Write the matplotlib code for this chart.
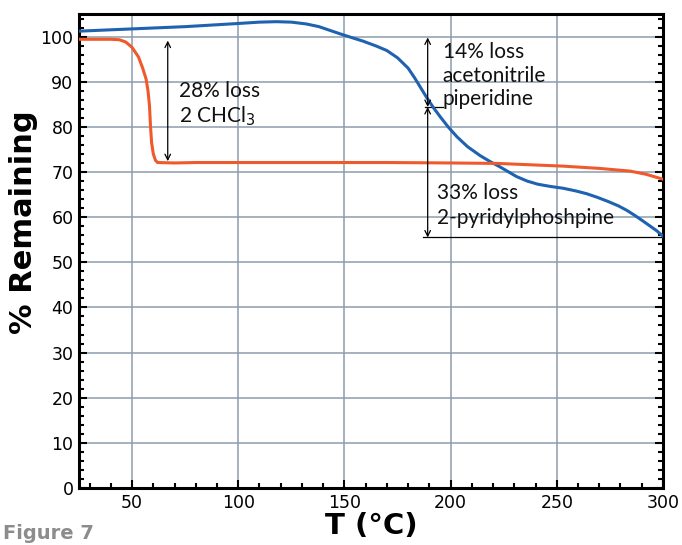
import numpy as np
import matplotlib.pyplot as plt
from matplotlib.ticker import MultipleLocator

# data
# orange trace (loss of CHCl3)
t_orange = [25, 40, 44, 47, 50, 53, 55, 56.6, 57.5, 58.2, 58.7, 59.2, 60, 61, 62,
            70, 80, 100, 143, 170, 200, 222, 253, 270, 284.5, 292, 300]
w_orange = [99.4, 99.4, 99.3, 98.8, 97.6, 95.5, 93.0, 90.6, 88.0, 84.7, 80.0, 76.5,
            74.0, 72.6, 72.1, 72.0, 72.1, 72.1, 72.1, 72.1, 72.0, 71.9, 71.3, 70.8,
            70.2, 69.5, 68.4]

# blue trace
t_blue = [25, 50, 75, 100, 110, 118, 125, 132, 138, 143, 148, 152.6, 158.7, 165,
          170, 175, 180, 183, 186, 189, 192, 195, 199, 203, 208, 214, 219, 223,
          227, 231, 236, 241, 247, 253, 259, 264, 269, 274, 279, 283, 287, 291,
          294, 297, 300]
w_blue = [101.2, 101.7, 102.2, 102.9, 103.2, 103.3, 103.2, 102.8, 102.2, 101.4,
          100.6, 99.9, 99.0, 97.9, 96.9, 95.3, 93.0, 90.9, 88.6, 86.3, 84.2, 82.3,
          79.9, 77.8, 75.6, 73.6, 72.2, 71.2, 70.1, 69.0, 68.0, 67.3, 66.8, 66.4,
          65.8, 65.2, 64.4, 63.5, 62.5, 61.5, 60.3, 59.0, 58.0, 57.0, 55.8]

fig = plt.figure(figsize=(6.82, 5.45), dpi=100)
ax = fig.add_axes([0.1158, 0.1046, 0.8563, 0.8697])

ax.plot(t_blue, w_blue, color='#1e62b0', lw=2.2, zorder=3)
ax.plot(t_orange, w_orange, color='#f0592b', lw=2.2, zorder=3)

ax.set_xlim(25, 300)
ax.set_ylim(0, 105)
ax.xaxis.set_major_locator(MultipleLocator(50))
ax.xaxis.set_minor_locator(MultipleLocator(10))
ax.yaxis.set_major_locator(MultipleLocator(10))
ax.yaxis.set_minor_locator(MultipleLocator(2))
ax.grid(True, which='major', color='#8d9cab', lw=1.1, zorder=0)
ax.tick_params(which='both', direction='in', right=True, top=False, width=1.5,
               labelsize=12.5, pad=4)
ax.tick_params(which='major', length=6)
ax.tick_params(which='minor', length=3.8)
for s in ax.spines.values():
    s.set_linewidth(2.2)

ax.set_xlabel('T (°C)', fontsize=21, fontweight='bold', labelpad=0)
ax.set_ylabel('% Remaining', fontsize=22, fontweight='bold')
ax.yaxis.set_label_coords(-0.07, 0.56)

# annotations
afont = dict(family=['Lato', 'DejaVu Sans'], fontsize=15, color='#111111')
arr = dict(arrowstyle='<->', color='black', lw=0.9, shrinkA=0, shrinkB=0,
           mutation_scale=10)
ax.annotate('', xy=(66.8, 99.1), xytext=(66.8, 72.4), arrowprops=arr)
ax.text(72, 88.0, '28% loss', va='center', **afont)
ax.text(72, 82.4, '2 CHCl$_3$', va='center', **afont)

ax.annotate('', xy=(189.2, 99.8), xytext=(189.2, 84.4), arrowprops=arr)
ax.annotate('', xy=(189.2, 84.4), xytext=(189.2, 55.5), arrowprops=arr)
ax.plot([187.9, 196.3], [84.4, 84.4], color='black', lw=0.9)
ax.plot([186.9, 300], [55.5, 55.5], color='black', lw=0.9)
ax.text(196.3, 96.5, '14% loss', va='center', **afont)
ax.text(196.3, 91.3, 'acetonitrile', va='center', **afont)
ax.text(196.3, 86.1, 'piperidine', va='center', **afont)
ax.text(193.4, 65.4, '33% loss', va='center', **afont)
ax.text(193.4, 59.9, '2-pyridylphoshpine', va='center', **afont)

fig.text(0.005, 0.003, 'Figure 7', fontsize=14, fontweight='bold', color='#8c8c8c',
         va='bottom', ha='left')

fig.savefig('out.png', dpi=100)
